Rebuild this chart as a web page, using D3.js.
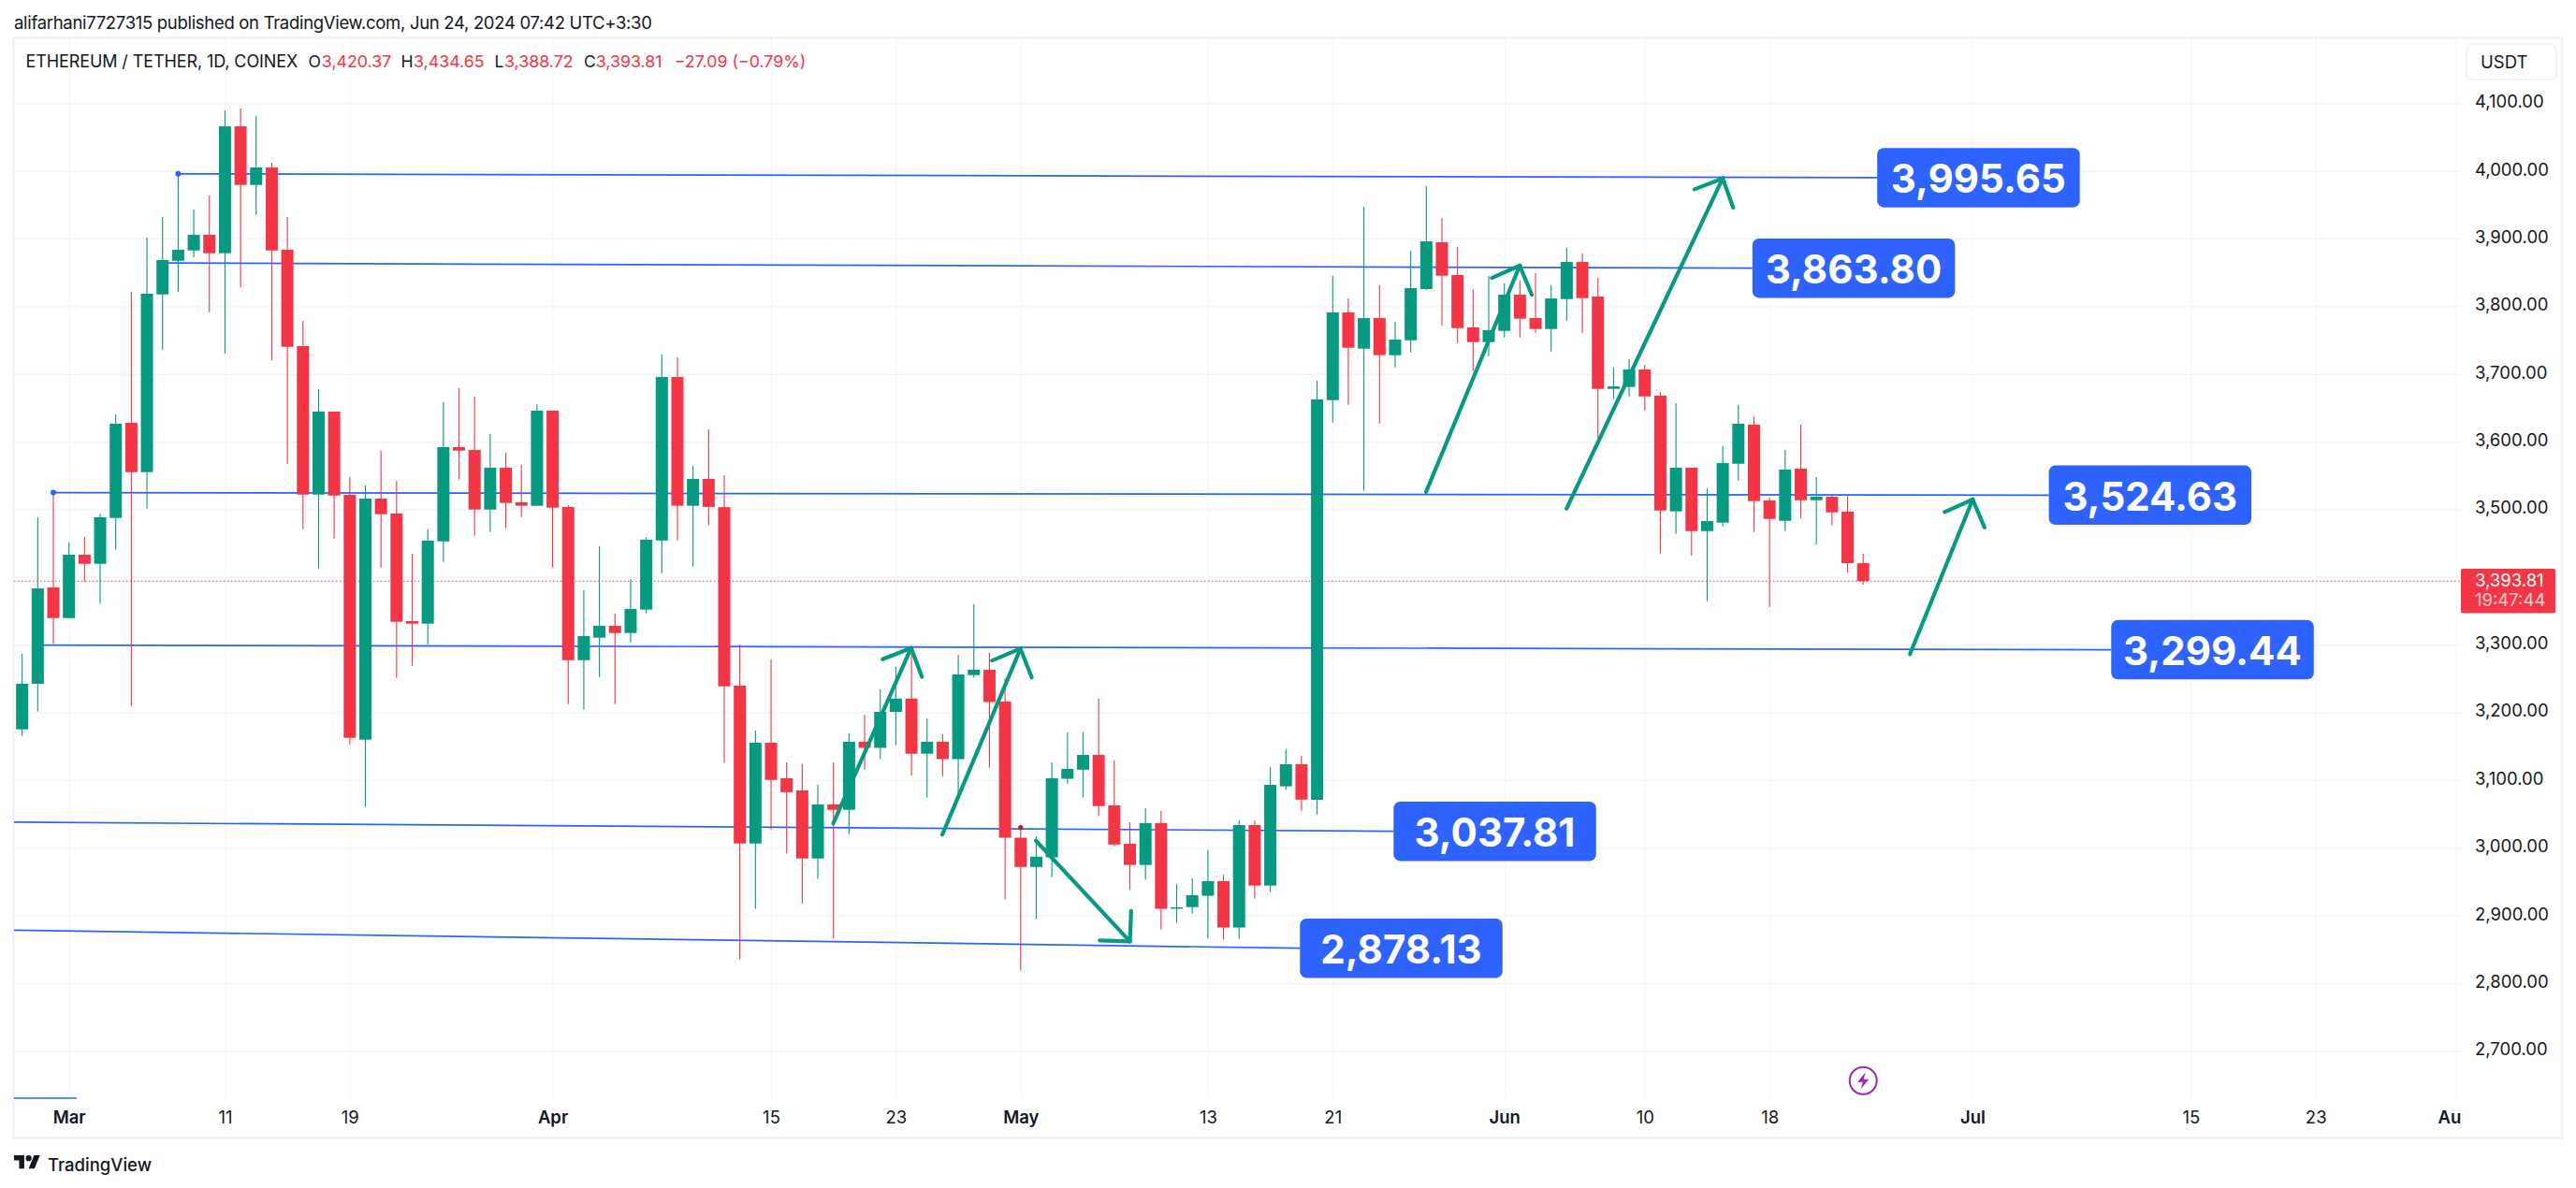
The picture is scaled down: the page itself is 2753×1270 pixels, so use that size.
<!DOCTYPE html>
<html>
<head>
<meta charset="utf-8">
<style>
  html, body { margin: 0; padding: 0; background: #fff; }
  svg { display: block; }
  text { font-family: Inter, "Noto Sans", sans-serif; fill: #131722; }
  .grid line { stroke: #f2f3f7; }
  .grid .domain { display: none; }
  .axis .domain { display: none; }
  .axis line { display: none; }
</style>
</head>
<body>
<svg width="2753" height="1270"></svg>
<script src="https://cdn.jsdelivr.net/npm/d3@7"></script>
<script>
// Daily candles, one per day starting Feb 27 2024 (prices)
var opens = [3174.9,3242.2,3384.5,3339.3,3432.9,3419.5,3487.2,3627.7,3554.9,3817.5,3867.2,3882.4,3905.5,3878.3,4065.8,3979.2,4005,3883.4,3741.1,3521.7,
  3644.3,3521.3,3159.7,3515.8,3493.7,3334.8,3331,3452.6,3591.8,3587.7,3499.6,3561.4,3510.3,3505.2,3645.7,3503.4,3277.1,3310.3,3327.8,3317.2,
  3351.8,3453.9,3695.5,3505.2,3544.8,3503.1,3239.4,3006.2,3155.1,3102.7,3084.6,2984.1,3064,3056,3156.5,3147.5,3200.7,3220.3,3138.9,3156.5,
  3130.9,3255,3262.9,3215.9,3014.8,2971.6,2985.7,3101.8,3115.3,3137.1,3062.5,3005.8,2974.6,3036.4,2910.5,2912.3,2929,2950.6,2882.1,3033.5,
  2944.1,3090.7,3123.3,3070.8,3661.3,3790.8,3737.3,3782.5,3727.7,3749.8,3825.4,3894.5,3846.1,3768.7,3747,3763.6,3817.1,3782.5,3766.4,3810.6,
  3865.4,3814.3,3677.9,3680.7,3706.5,3667.8,3496.9,3561.4,3467.8,3480.3,3567.3,3625,3513,3483,3560,3513.4,3518.6,3496.5,3420.37];
var highs = [3286.4,3488.2,3525.5,3450.8,3459.1,3493.7,3640.2,3821.2,3901.4,3931.8,3995.8,3942.8,3963.6,4089.3,4092.1,4081,4011.9,3931.8,3778.4,3677.5,
  3644.3,3547.6,3535.1,3586.3,3542.1,3434.3,3470.2,3658.1,3678.9,3666.4,3611.2,3583.5,3565.5,3655.4,3645.7,3506.1,3380.4,3445.3,3345.8,3396.9,
  3459.1,3728.6,3724.5,3564.2,3618.1,3550.3,3300.2,3173.1,3278.1,3126.1,3123.3,3092.9,3126.1,3168.9,3196.6,3233.9,3267,3295.2,3191,3167.5,
  3285,3359.6,3287.8,3250.4,3029.9,3016.9,3126.1,3170.6,3170.6,3220.3,3128.8,3037.6,3058.5,3054.2,2946.4,2954.7,2996.2,2960.2,3040.4,3040.4,
  3119.2,3145.4,3135.9,3689.9,3844.7,3811.5,3947,3830.9,3777,3882,3977.4,3930.4,3887.6,3825.4,3844.7,3833.7,3837.8,3848.9,3830.9,3886.2,
  3877.9,3841.9,3709.3,3721.7,3713.4,3673.4,3656.8,3561.4,3531,3593.2,3654,3637.4,3517.6,3587.7,3625,3547.6,3519.9,3519.9,3434.65];
var lows = [3165.2,3201.1,3301.2,3339.3,3393.2,3360,3440.2,3209.4,3501,3735.5,3821.2,3872.3,3791.2,3730,3828.1,3934.5,3720.3,3567.3,3470.6,3412.6,
  3456.8,3152.7,3060.2,3413.9,3250.9,3268.8,3300.2,3422.2,3543.9,3460.9,3466.5,3472,3488.6,3505.2,3413.9,3212.2,3203.9,3252.2,3212.2,3303.4,
  3346.2,3405.6,3453.9,3415.2,3476,3125.4,2835,2909.8,3026.6,2991.2,2917.9,2954,2866.3,3020.4,3115,3130.9,3151.5,3106.7,3074.1,3105.8,
  3079.1,3251,3118.3,2923.5,2818.4,2894.3,2956.5,3094.7,3074.1,3046.5,3002.2,2937.4,2952.5,2879.2,2888.8,2902.7,2866.3,2864.2,2865.6,2924.9,
  2934.5,3085.2,3054.5,3049.1,3628.2,3654.4,3527.3,3626.8,3709.7,3731.8,3824,3771.9,3745.6,3704.2,3726.3,3753.9,3753.9,3760.8,3733.2,3778.8,
  3760.8,3606,3662.7,3666.4,3646.1,3434.7,3463.7,3431.5,3364.2,3474.8,3542.5,3466.5,3355.9,3467.8,3485.8,3448.1,3476.1,3406.6,3388.72];
var closes = [3242.2,3383.1,3339.3,3432.9,3419.5,3488.2,3626.4,3554.9,3818.5,3868.2,3883.4,3905.5,3878.3,4065.8,3979.2,4005,3882.4,3740.1,3521.7,3644.3,
  3520.3,3162.4,3515.8,3492.7,3333.8,3331,3453.6,3591.8,3586.7,3499.6,3561.4,3509.3,3505.2,3645.7,3502.4,3277.1,3312.6,3327.8,3317.2,3352.7,
  3455,3695.5,3505.2,3544.8,3503.6,3238.4,3006.2,3155.1,3100.2,3082.1,2984.1,3064,3056,3156.5,3147.5,3200.7,3220.3,3138.9,3156.5,3130.9,
  3256,3262.9,3215.2,3014.8,2971.6,2986.8,3102.7,3116.4,3137.1,3061.5,3004.7,2974.6,3036.4,2909.8,2911.9,2929.8,2950.6,2882.1,3033.5,2944.1,
  3092.9,3123.3,3071.1,3662.3,3790.8,3738.7,3782.5,3727.7,3750.7,3826.7,3895.8,3845.1,3767.7,3747,3764.6,3817.1,3781.6,3766.4,3811.5,3865.4,
  3812,3677.9,3681.6,3706.5,3666.8,3498.2,3561.4,3467.8,3482.6,3568.3,3626.4,3512.1,3485.8,3558.6,3513.4,3518.6,3495.5,3420.37,3393.81];

// Price and time axes
var priceTicks = [4100,4000,3900,3800,3700,3600,3500,3400,3300,3200,3100,3000,2900,2800,2700];
var shownPriceTicks = priceTicks.filter(function(d) { return d !== 3400; });
var timeTickDays = [3,13,21,34,48,56,64,76,84,95,104,112,125,139,147,156];
var timeTickLabels = ['Mar','11','19','Apr','15','23','May','13','21','Jun','10','18','Jul','15','23','Au'];
var monthLabels = ['Mar','Apr','May','Jun','Jul','Au'];

// Drawn levels: day numbers count from Feb 27, prices in USDT
var levelLabels = ['3,995.65','3,863.80','3,524.63','3,299.44','3,037.81','2,878.13'];
var levelStartDays = [10,9,2,1,-0.52,-0.52];
var levelStartPrices = [3995.65,3863.8,3524.63,3299.44,3037.81,2878.13];
var levelEndDays = [118.9,110.9,129.9,133.9,87.9,81.9];
var levelEndPrices = [3989.9,3856.2,3520.8,3292.4,3024.2,2851.5];

// Drawn arrows as [day, price]
var arrowTails = [[51.99,3036],[58.98,3019.4],[64.98,3010.3],[89.99,3525.9],[98.99,3501],[121,3286]];
var arrowTips = [[56.98,3295.1],[63.99,3294.1],[71,2861.6],[95.99,3859.9],[109,3988.9],[125.02,3514.4]];
var arrowHeadsA = [[55.15,3278.5],[62.17,3276.6],[71.08,2906.4],[94.2,3841.9],[107.18,3972.8],[123.22,3496]];
var arrowHeadsB = [[57.67,3252.4],[64.71,3251.4],[69.07,2863.1],[96.76,3817.1],[109.67,3945.6],[125.78,3473.2]];

var lastPrice = 3393.81;
var upColor = '#089981', downColor = '#f23645', blue = '#2962ff';

var svg = d3.select('svg');
var firstDay = Date.UTC(2024, 1, 27);

function dayToDate(n) {
    return new Date(firstDay + n * 864e5);
}

// Layout of the pane
var pane = {l: 15, t: 41, r: 2630, b: 1174};

var x = d3.scaleUtc()
    .domain([dayToDate(0), dayToDate(156)])
    .range([23.66, 2624.8]);

var y = d3.scaleLinear()
    .domain([4100, 2700])
    .range([110.3, 1123.3]);

function px(p) { return x(dayToDate(p[0])); }
function py(p) { return y(p[1]); }

// Outer frame
svg.append('rect')
    .attr('x', 14.5).attr('y', 40.5)
    .attr('width', 2723.5).attr('height', 1176)
    .attr('fill', 'none')
    .attr('stroke', '#f0f1f6')
    .attr('stroke-width', 2.5);

// Grid
svg.append('g')
    .attr('class', 'grid')
    .attr('transform', 'translate(' + pane.l + ',0)')
    .call(d3.axisLeft(y).tickValues(priceTicks).tickSize(-(pane.r - pane.l)).tickFormat(''))
    .selectAll('line').attr('stroke-width', 1.4);

svg.append('g')
    .attr('class', 'grid')
    .attr('transform', 'translate(0,' + pane.b + ')')
    .call(d3.axisBottom(x).tickValues(timeTickDays.map(dayToDate)).tickSize(-(pane.b - pane.t)).tickFormat(''))
    .selectAll('line').attr('stroke-width', 1);

// Last price line sits under the candles
svg.append('line')
    .attr('x1', pane.l).attr('x2', pane.r)
    .attr('y1', y(lastPrice)).attr('y2', y(lastPrice))
    .attr('stroke', downColor)
    .attr('stroke-width', 1)
    .attr('stroke-dasharray', '1.5 2.5');

// Level lines sit under the candles too
var levelG = svg.append('g');
levelLabels.forEach(function(label, i) {
    levelG.append('line')
        .attr('x1', x(dayToDate(levelStartDays[i])))
        .attr('y1', y(levelStartPrices[i]))
        .attr('x2', x(dayToDate(levelEndDays[i])))
        .attr('y2', y(levelEndPrices[i]))
        .attr('stroke', blue)
        .attr('stroke-width', 1.7);
});

// small stub of a level in the bottom left corner
svg.append('line')
    .attr('x1', pane.l).attr('x2', x(dayToDate(3.5)))
    .attr('y1', pane.b).attr('y2', pane.b)
    .attr('stroke', blue)
    .attr('stroke-width', 1.4);

// Candles
var indexes = d3.range(opens.length);
function candleColor(i) {
    return closes[i] >= opens[i] ? upColor : downColor;
}

var candleG = svg.append('g');
candleG.selectAll('.wick')
    .data(indexes)
    .enter()
    .append('line')
    .attr('class', 'wick')
    .attr('x1', function(i) { return x(dayToDate(i)); })
    .attr('x2', function(i) { return x(dayToDate(i)); })
    .attr('y1', function(i) { return y(highs[i]); })
    .attr('y2', function(i) { return y(lows[i]); })
    .attr('stroke', candleColor)
    .attr('stroke-width', 1.1);

candleG.selectAll('.body')
    .data(indexes)
    .enter()
    .append('rect')
    .attr('class', 'body')
    .attr('x', function(i) { return x(dayToDate(i)) - 6.5; })
    .attr('width', 13)
    .attr('y', function(i) { return y(Math.max(opens[i], closes[i])); })
    .attr('height', function(i) { return Math.max(1.5, Math.abs(y(opens[i]) - y(closes[i]))); })
    .attr('fill', candleColor);

// Anchor dots of the level lines
[0, 2].forEach(function(i) {
    svg.append('circle')
        .attr('cx', x(dayToDate(levelStartDays[i])))
        .attr('cy', y(levelStartPrices[i]))
        .attr('r', 3)
        .attr('fill', blue);
});
svg.append('circle')
    .attr('cx', x(dayToDate(64)))
    .attr('cy', y(highs[64]))
    .attr('r', 2.6)
    .attr('fill', '#b11f33');

// Green arrows on top of the candles
arrowTails.forEach(function(tail, i) {
    var tip = arrowTips[i];
    [[tail, tip], [arrowHeadsA[i], tip], [arrowHeadsB[i], tip]].forEach(function(seg) {
        svg.append('line')
            .attr('x1', px(seg[0])).attr('y1', py(seg[0]))
            .attr('x2', px(seg[1])).attr('y2', py(seg[1]))
            .attr('stroke', upColor)
            .attr('stroke-width', 4.2)
            .attr('stroke-linecap', 'round');
    });
});

// Value labels at the end of each level
levelLabels.forEach(function(label, i) {
    var lx = x(dayToDate(levelEndDays[i]));
    var ly = y(levelEndPrices[i]);
    svg.append('rect')
        .attr('x', lx).attr('y', ly - 31.8)
        .attr('width', 216.5).attr('height', 63.5)
        .attr('rx', 7)
        .attr('fill', '#2e63ff');
    svg.append('text')
        .attr('x', lx + 108.2).attr('y', ly + 1)
        .attr('text-anchor', 'middle')
        .attr('dominant-baseline', 'central')
        .attr('font-size', 42)
        .attr('font-weight', 650)
        .style('fill', '#fff')
        .text(label);
});

// Price axis
var priceAxis = svg.append('g')
    .attr('class', 'axis')
    .attr('transform', 'translate(2645,-1.5)')
    .call(d3.axisRight(y).tickValues(shownPriceTicks).tickSize(0).tickPadding(0).tickFormat(d3.format(',.2f')));
priceAxis.selectAll('text').attr('font-size', 18.5).attr('font-family', null);

// Time axis
var timeAxis = svg.append('g')
    .attr('class', 'axis')
    .attr('transform', 'translate(0,' + pane.b + ')')
    .call(d3.axisBottom(x)
        .tickValues(timeTickDays.map(dayToDate))
        .tickSize(0)
        .tickPadding(14)
        .tickFormat(function(d, i) { return timeTickLabels[i]; }));
timeAxis.selectAll('text')
    .attr('font-size', 18.5)
    .attr('font-family', null)
    .attr('font-weight', function(d, i) { return monthLabels.indexOf(timeTickLabels[i]) >= 0 ? 600 : 400; });
// the last label is cut by the price scale in the original
timeAxis.selectAll('text').filter(function(d, i) { return i === timeTickLabels.length - 1; })
    .attr('text-anchor', 'end')
    .attr('x', 5);

// USDT button
svg.append('rect')
    .attr('x', 2636).attr('y', 47)
    .attr('width', 96).attr('height', 38)
    .attr('rx', 6)
    .attr('fill', '#fff')
    .attr('stroke', '#eef0f6')
    .attr('stroke-width', 1.5);
svg.append('text')
    .attr('x', 2651).attr('y', 66)
    .attr('dominant-baseline', 'central')
    .attr('font-size', 18.5)
    .text('USDT');

// Last price tag
svg.append('rect')
    .attr('x', 2630).attr('y', 608)
    .attr('width', 101).attr('height', 47.6)
    .attr('rx', 2)
    .attr('fill', downColor);
svg.append('text')
    .attr('x', 2645).attr('y', 620)
    .attr('dominant-baseline', 'central')
    .attr('font-size', 18.5)
    .style('fill', '#fff')
    .text(d3.format(',.2f')(lastPrice));
svg.append('text')
    .attr('x', 2645).attr('y', 641)
    .attr('dominant-baseline', 'central')
    .attr('font-size', 18.5)
    .style('fill', '#fff')
    .attr('opacity', 0.75)
    .text('19:47:44');

// Page header
svg.append('text')
    .attr('x', 15).attr('y', 24)
    .attr('dominant-baseline', 'central')
    .attr('font-size', 18.5)
    .attr('letter-spacing', -0.31)
    .text('alifarhani7727315 published on TradingView.com, Jun 24, 2024 07:42 UTC+3:30');

// Symbol legend
var legendY = 65;
svg.append('text')
    .attr('x', 27.5).attr('y', legendY)
    .attr('dominant-baseline', 'central')
    .attr('font-size', 18)
    .attr('letter-spacing', -0.1)
    .text('ETHEREUM / TETHER, 1D, COINEX');

var legendKeys = ['O', 'H', 'L', 'C'];
var legendKeyX = [329.5, 428.6, 528.6, 624];
var legendValues = ['3,420.37', '3,434.65', '3,388.72', '3,393.81'];
var legendValueX = [343.8, 442, 539, 636.7];
legendKeys.forEach(function(k, i) {
    svg.append('text')
        .attr('x', legendKeyX[i]).attr('y', legendY)
        .attr('dominant-baseline', 'central')
        .attr('font-size', 17.6)
        .text(k);
    svg.append('text')
        .attr('x', legendValueX[i]).attr('y', legendY)
        .attr('dominant-baseline', 'central')
        .attr('font-size', 17.8)
        .style('fill', downColor)
        .text(legendValues[i]);
});
svg.append('text')
    .attr('x', 720.7).attr('y', legendY)
    .attr('dominant-baseline', 'central')
    .attr('font-size', 17.8)
    .style('fill', downColor)
    .text('\u221227.09 (\u22120.79%)');

// Purple marker under the last bar
var marker = svg.append('g')
    .attr('transform', 'translate(' + x(dayToDate(118)) + ',1155.3)');
marker.append('circle')
    .attr('r', 14.5)
    .attr('fill', '#fff')
    .attr('stroke', '#9c27b0')
    .attr('stroke-width', 2);
marker.append('path')
    .attr('d', 'M2.5,-9 L-6,1.5 L-0.5,1.5 L-2.5,9 L6,-1.5 L0.5,-1.5 Z')
    .attr('fill', '#9c27b0');

// TradingView logo
svg.append('path')
    .attr('transform', 'translate(15,1232) scale(0.78)')
    .attr('d', 'M14 22H7V11H0V4h14v18zM28 22h-8l7.5-18h8L28 22z')
    .attr('fill', '#131722');
svg.append('circle')
    .attr('transform', 'translate(15,1232) scale(0.78)')
    .attr('cx', 20).attr('cy', 8).attr('r', 4)
    .attr('fill', '#131722');
svg.append('text')
    .attr('x', 51).attr('y', 1245)
    .attr('dominant-baseline', 'central')
    .attr('font-size', 18.5)
    .attr('font-weight', 500)
    .text('TradingView');
</script>
</body>
</html>
